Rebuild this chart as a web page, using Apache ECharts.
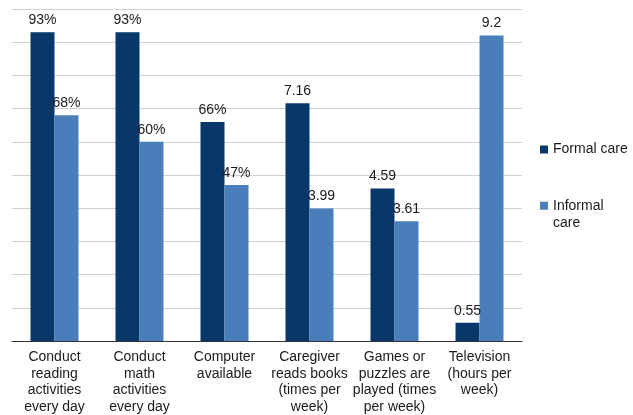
<!DOCTYPE html>
<html>
<head>
<meta charset="utf-8">
<script src="https://cdn.jsdelivr.net/npm/echarts@6/dist/echarts.min.js"></script>
<style>html,body{margin:0;padding:0;background:#fff}#c{width:633px;height:415px}</style>
</head>
<body>
<div id="c"></div>
<script>
const categories = [
  "Conduct\nreading\nactivities\nevery day",
  "Conduct\nmath\nactivities\nevery day",
  "Computer\navailable",
  "Caregiver\nreads books\n(times per\nweek)",
  "Games or\npuzzles are\nplayed (times\nper week)",
  "Television\n(hours per\nweek)"
];
const formalValues = [9.3, 9.3, 6.6, 7.16, 4.59, 0.55];
const formalLabels = ["93%", "93%", "66%", "7.16", "4.59", "0.55"];
const informalValues = [6.8, 6.0, 4.7, 3.99, 3.61, 9.2];
const informalLabels = ["68%", "60%", "47%", "3.99", "3.61", "9.2"];

const font = "'Liberation Sans', Arial, sans-serif";
const chart = echarts.init(document.getElementById('c'), null, {renderer: 'canvas'});
chart.setOption({
  animation: false,
  textStyle: {fontFamily: font},
  grid: {left: 12, right: 111, top: 9, bottom: 73.5},
  legend: [
    {
      data: ['Formal care'], orient: 'vertical', left: 540, top: 141, padding: 0,
      itemWidth: 8, itemHeight: 8, itemGap: 0, itemTextGap: 1,
      icon: 'rect',
      textStyle: {fontSize: 14, color: '#1a1a1a', fontFamily: font, lineHeight: 17}
    },
    {
      data: ['Informal care'], orient: 'vertical', left: 540, top: 179.5, padding: 0,
      itemWidth: 8, itemHeight: 8, itemGap: 0, itemTextGap: 1,
      icon: 'rect',
      formatter: n => ' \n' + n.replace(' ', '\n'),
      textStyle: {fontSize: 14, color: '#1a1a1a', fontFamily: font, lineHeight: 17.5}
    }
  ],
  xAxis: {
    type: 'category', data: categories,
    axisLine: {lineStyle: {color: '#333', width: 1}},
    axisTick: {show: false},
    axisLabel: {interval: 0, fontSize: 14, color: '#1a1a1a', lineHeight: 16.5, margin: 8, fontFamily: font}
  },
  yAxis: {
    type: 'value', min: 0, max: 10, interval: 1,
    axisLabel: {show: false}, axisLine: {show: false}, axisTick: {show: false},
    splitLine: {lineStyle: {color: '#d0d0d0', width: 1}}
  },
  series: [
    {
      name: 'Formal care', type: 'bar', data: formalValues, barWidth: 24, barGap: '0%',
      itemStyle: {color: '#073869'},
      label: {show: true, position: 'top', fontSize: 14, color: '#1a1a1a', fontFamily: font,
        formatter: p => formalLabels[p.dataIndex]}
    },
    {
      name: 'Informal care', type: 'bar', data: informalValues, barWidth: 24,
      itemStyle: {color: '#4a7ebb'},
      label: {show: true, position: 'top', fontSize: 14, color: '#1a1a1a', fontFamily: font,
        formatter: p => informalLabels[p.dataIndex]}
    }
  ]
});
</script>
</body>
</html>
